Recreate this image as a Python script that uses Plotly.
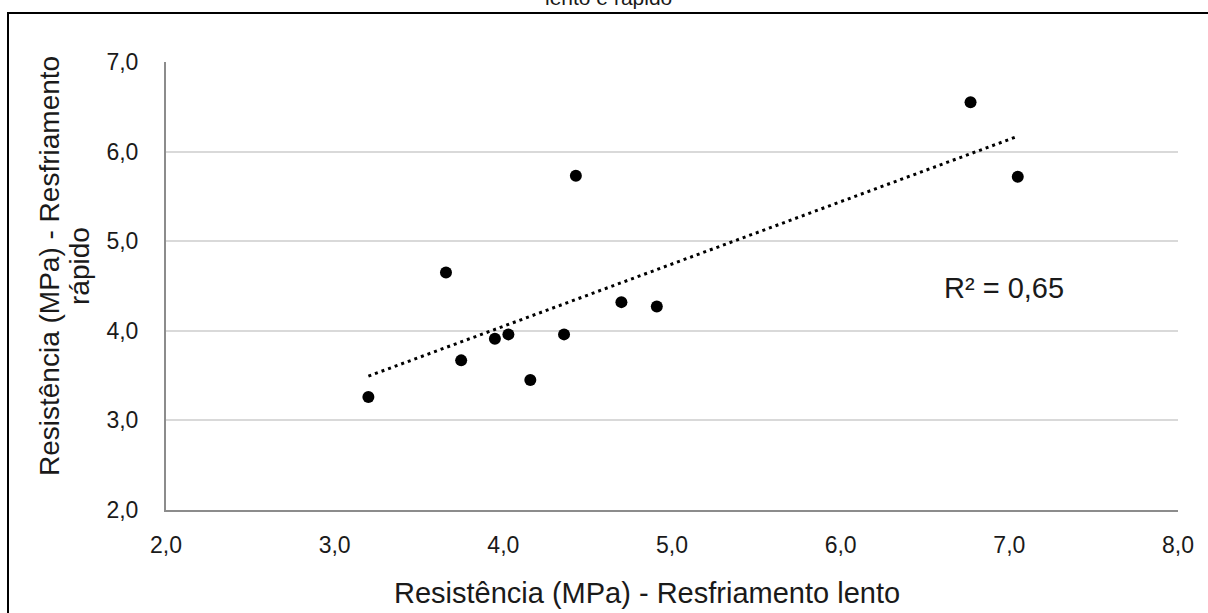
import numpy as np
import plotly.graph_objects as go

# Resistência (MPa): resfriamento lento (x) vs. resfriamento rápido (y)
lento = [3.20, 3.66, 3.75, 3.95, 4.03, 4.16, 4.36, 4.43, 4.70, 4.91, 6.77, 7.05]
rapido = [3.26, 4.65, 3.67, 3.91, 3.96, 3.45, 3.96, 5.73, 4.32, 4.27, 6.55, 5.72]
r_squared = 0.65

x_ticks = [2.0, 3.0, 4.0, 5.0, 6.0, 7.0, 8.0]
y_ticks = [2.0, 3.0, 4.0, 5.0, 6.0, 7.0]

W, H = 1208, 613
L, R, T, B = 166, 30, 62, 103
pw, ph = W - L - R, H - T - B


def px(xp):
    return (xp - L) / pw


def py(yp):
    return (H - B - yp) / ph


# linear trend line over the data range
slope, intercept = np.polyfit(lento, rapido, 1)
xt = np.array([min(lento), max(lento)])
yt = slope * xt + intercept

font = "Liberation Sans, Arial, sans-serif"
ink = "#1a1a1a"

fig = go.Figure()
fig.add_trace(go.Scatter(
    x=xt, y=yt, mode="lines",
    line=dict(color="#000000", width=3, dash="3px,4px"),
    hoverinfo="skip", showlegend=False,
))
fig.add_trace(go.Scatter(
    x=lento, y=rapido, mode="markers",
    marker=dict(color="#000000", size=12, line=dict(width=0)),
    showlegend=False,
))

# y-axis title is set as two rotated lines with tight leading
y_title_lines = ["Resistência (MPa) - Resfriamento", "rápido"]
y_title_x = [49, 79]

annotations = [
    dict(text="Resistência (MPa) - Resfriamento lento",
         xref="paper", yref="paper", x=px(647), y=py(593),
         xanchor="center", yanchor="middle", showarrow=False,
         font=dict(size=29, family=font, color=ink)),
    dict(text="R² = " + f"{r_squared:.2f}".replace(".", ","),
         xref="paper", yref="paper", x=px(1004), y=py(288),
         xanchor="center", yanchor="middle", showarrow=False,
         font=dict(size=29, family=font, color=ink)),
    dict(text="lento e rápido",
         xref="paper", yref="paper", x=px(608), y=py(11),
         xanchor="center", yanchor="bottom", showarrow=False,
         font=dict(size=21, family=font, color=ink)),
]
for line, xc in zip(y_title_lines, y_title_x):
    annotations.append(dict(
        text=line, xref="paper", yref="paper", x=px(xc), y=py(266),
        xanchor="center", yanchor="middle", showarrow=False,
        textangle=-90, font=dict(size=28, family=font, color=ink)))

fig.update_layout(
    width=W, height=H,
    margin=dict(l=L, r=R, t=T, b=B),
    paper_bgcolor="white", plot_bgcolor="white",
    separators=",.",
    font=dict(family=font, color=ink),
    xaxis=dict(
        range=[2, 8], tickvals=x_ticks, tickformat=".1f",
        showgrid=False, zeroline=False,
        showline=True, linecolor="#8c8c8c", linewidth=2,
        ticks="outside", ticklen=13, tickcolor="rgba(0,0,0,0)",
        tickfont=dict(size=23, family=font, color=ink),
    ),
    yaxis=dict(
        range=[2, 7], tickvals=y_ticks, tickformat=".1f",
        showgrid=True, gridcolor="#d9d9d9", gridwidth=1.5,
        zeroline=False,
        showline=True, linecolor="#8c8c8c", linewidth=2,
        ticks="outside", ticklen=21, tickcolor="rgba(0,0,0,0)",
        tickfont=dict(size=23, family=font, color=ink),
    ),
    annotations=annotations,
    shapes=[
        dict(type="rect", xref="paper", yref="paper",
             x0=px(8), x1=px(1230), y0=py(13), y1=py(640),
             line=dict(color="#000000", width=2), layer="above"),
    ],
)

fig.write_html("out.html")
